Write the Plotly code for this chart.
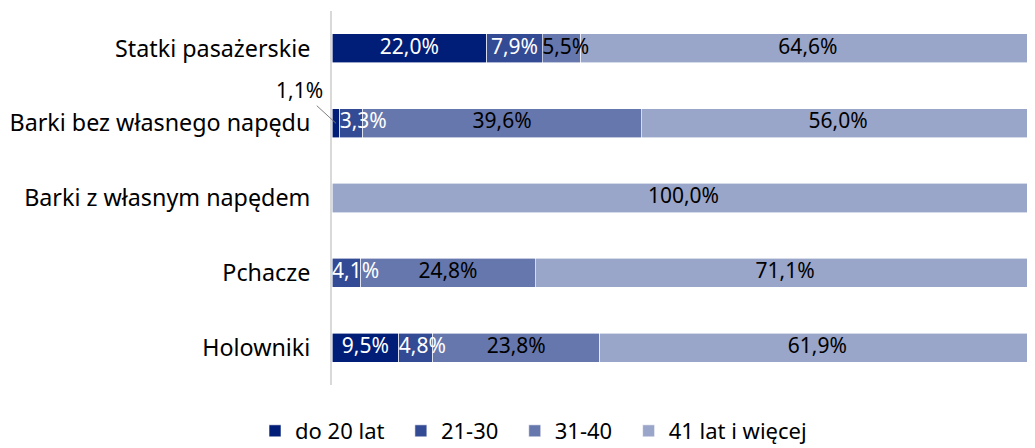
import plotly.graph_objects as go

categories = ['Statki pasażerskie', 'Barki bez własnego napędu', 'Barki z własnym napędem',
              'Pchacze', 'Holowniki']
series_names = ['do 20 lat', '21-30', '31-40', '41 lat i więcej']
do_20 = [22.0, 1.1, 0.0, 0.0, 9.5]
lat_21_30 = [7.9, 3.3, 0.0, 4.1, 4.8]
lat_31_40 = [5.5, 39.6, 0.0, 24.8, 23.8]
lat_41_plus = [64.6, 56.0, 100.0, 71.1, 61.9]

colors = ['#001D77', '#334A94', '#6677AD', '#99A5C9']
text_colors = ['white', 'white', 'black', 'black']
FONT = 'Noto Sans'
NBSP = '\u00a0'


def fmt(v):
    return f'{v:.1f}%'.replace('.', ',')


all_series = [do_20, lat_21_30, lat_31_40, lat_41_plus]

fig = go.Figure()
for i, (name, vals, col) in enumerate(zip(series_names, all_series, colors)):
    legend_name = name if i == len(series_names) - 1 else name + NBSP * 2
    fig.add_trace(go.Bar(
        y=categories, x=vals, name=legend_name, orientation='h',
        marker=dict(color=col, line=dict(color='white', width=0.6)),
        hoverinfo='skip',
    ))

# data labels drawn on top of all bars (narrow segments start at their left edge)
starts = [0.0] * len(categories)
for vals, tcol in zip(all_series, text_colors):
    xs, txt, pos = [], [], []
    for j, v in enumerate(vals):
        if v >= 2:
            if v < 7:
                xs.append(starts[j])
                pos.append('middle right')
            else:
                xs.append(starts[j] + v / 2)
                pos.append('middle center')
            txt.append(fmt(v))
        else:
            xs.append(starts[j])
            txt.append('')
            pos.append('middle center')
        starts[j] += v
    fig.add_trace(go.Scatter(
        x=xs, y=categories, mode='text', text=txt, textposition=pos,
        textfont=dict(color=tcol, size=21, family=FONT),
        showlegend=False, hoverinfo='skip', cliponaxis=False,
    ))

fig.add_annotation(x=do_20[1] / 2, y=categories[1], text=fmt(do_20[1]),
                   showarrow=True, arrowhead=0, arrowwidth=1, arrowcolor='#7f7f7f',
                   ax=-36, ay=-33, standoff=0,
                   font=dict(size=21, color='black', family=FONT))

fig.update_layout(
    barmode='stack', bargap=0.61,
    width=1027, height=440,
    margin=dict(l=324, r=0, t=3, b=63),
    plot_bgcolor='white', paper_bgcolor='white',
    font=dict(family=FONT, size=21, color='black'),
    xaxis=dict(range=[0, 100], visible=False, fixedrange=True),
    yaxis=dict(autorange='reversed', showline=True, linecolor='#D9D9D9', linewidth=2,
               showgrid=False, ticks='', ticklabelstandoff=15,
               tickfont=dict(size=23.3, family=FONT, color='black')),
    legend=dict(orientation='h', xref='container', yref='container',
                x=0.5117, xanchor='center', y=0.0386, yanchor='middle',
                font=dict(size=22, family=FONT), traceorder='normal'),
    showlegend=True,
)

fig.write_html('out.html')
